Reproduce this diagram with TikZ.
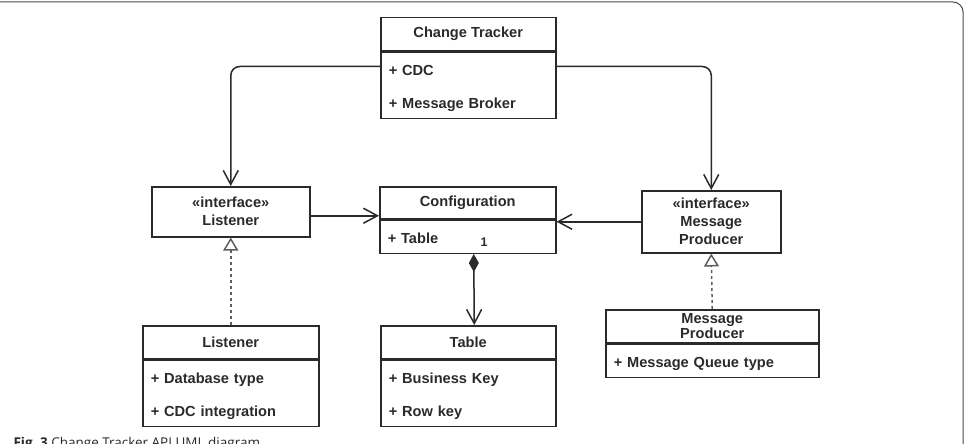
\documentclass[tikz,border=0pt]{standalone}
\usepackage{fontspec}
\setmainfont{Liberation Sans}
\newfontfamily\capfont{Open Sans}
\usepackage{xcolor}
\usetikzlibrary{arrows.meta,positioning}

\definecolor{linegray}{HTML}{2A2A2A}
\definecolor{txtgray}{HTML}{2A2A2A}
\definecolor{dashgray}{HTML}{5E5E5E}
\definecolor{framegray}{HTML}{4A4A4A}

\tikzset{
  cls/.style={draw=linegray, line width=1.5pt, inner sep=0pt, text=txtgray},
  clshead/.style={cls, minimum width=#1, minimum height=33pt, align=center, font=\bfseries\fontsize{14.6}{15}\selectfont},
  clsbody/.style={cls, text width=#1, inner xsep=8pt, align=left, font=\bfseries\fontsize{14.6}{33}\selectfont},
  iface/.style={cls, align=center, font=\bfseries\fontsize{14.6}{18}\selectfont},
  assoc/.style={draw=linegray, line width=1.5pt, -{Straight Barb[length=14pt, width=15pt]}},
  comp/.style={draw=linegray, line width=1.5pt, {Diamond[length=18pt, width=10pt]}-{Straight Barb[length=14pt, width=15pt]}},
  real/.style={draw=dashgray, line width=1.5pt, dash pattern=on 3pt off 3pt, -{Triangle[open, length=13pt, width=15pt]}}
}

\begin{document}
\begin{tikzpicture}[x=1pt, y=-1pt]
  \useasboundingbox (0,0) rectangle (966,444);
  \draw[framegray, line width=1pt, rounded corners=10pt] (0,2) -- (963,2) -- (963,446);

  % classes
  \node[clshead=175pt, anchor=north west] (ct-head) at (380,17) {Change Tracker};
  \node[clsbody=159pt, below=0pt of ct-head, minimum height=65pt] (ct-body) {\strut+ CDC\\\strut+ Message Broker};

  \node[clshead=176pt, minimum height=32pt, anchor=north west] (conf-head) at (379,186) {Configuration};
  \node[clsbody=160pt, below=0pt of conf-head, minimum height=33pt] (conf-body) {\strut+ Table};

  \node[clshead=175pt, anchor=north west] (tab-head) at (380,325) {Table};
  \node[clsbody=159pt, below=0pt of tab-head, minimum height=65pt] (tab-body) {\strut+ Business Key\\\strut+ Row key};

  \node[clshead=176pt, anchor=north west] (lis-head) at (142,325) {Listener};
  \node[clsbody=160pt, below=0pt of lis-head, minimum height=65pt] (lis-body) {\strut+ Database type\\\strut+ CDC integration};

  \node[clshead=213pt, anchor=north west] (mp-head) at (605,309) {Message\\Producer};
  \node[clsbody=197pt, below=0pt of mp-head, minimum height=32pt] (mp-body) {\strut+ Message Queue type};

  % interfaces
  \node[iface, minimum width=158pt, minimum height=50pt, anchor=north west] (ilis) at (151,186) {«interface»\\Listener};
  \node[iface, minimum width=139pt, minimum height=62pt, anchor=north west] (imp) at (641,190) {«interface»\\Message\\Producer};

  % connectors
  \draw[assoc, rounded corners=9pt] ([yshift=-15pt]ct-body.north west) -| (ilis.north);
  \draw[assoc, rounded corners=9pt] ([yshift=-15pt]ct-body.north east) -| (imp.north);
  \coordinate (lis-out) at ([yshift=-4pt]ilis.east);
  \draw[assoc] (lis-out) -- (lis-out -| conf-head.west);
  \draw[assoc] (imp.west) -- (imp.west -| conf-body.east);
  \draw[comp] ([xshift=6pt]conf-body.south) -- ([xshift=6pt]tab-head.north);
  \node[text=txtgray, font=\bfseries\fontsize{12.5}{13}\selectfont] (one) at (484,242) {1};
  \draw[real] (lis-head.north) -- (ilis.south);
  \draw[real] (mp-head.north) -- (imp.south);

  % caption
  \node[anchor=base west, font=\capfont\fontsize{13.5}{14}\selectfont, text=txtgray] (cap) at (10,447) {\textbf{Fig.~3} Change Tracker API UML diagram};
\end{tikzpicture}
\end{document}
